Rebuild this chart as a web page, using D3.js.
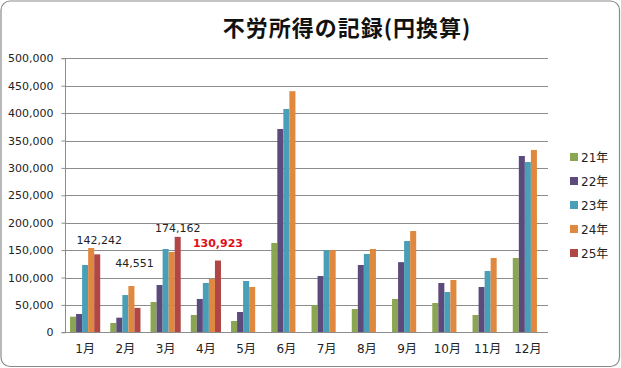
<!DOCTYPE html>
<html><head><meta charset="utf-8">
<script src="https://cdn.jsdelivr.net/npm/d3@7"></script>
<style>body{margin:0;background:#fff}svg{display:block}</style>
</head><body>
<svg id="c" width="621" height="368"></svg>
<script>
const months = ["1月","2月","3月","4月","5月","6月","7月","8月","9月","10月","11月","12月"];
const seriesNames = ["21年","22年","23年","24年","25年"];
const s21 = [28500,17000,55300,31600,20600,163000,49800,42500,60800,53500,31600,135600];
const s22 = [33400,26700,86300,60800,37000,371000,102700,122800,128000,90000,82700,321700];
const s23 = [122800,68000,152000,90000,93600,407500,150000,142900,166600,73500,111900,310800];
const s24 = [153800,84500,146500,97300,82700,440000,150000,152000,184800,95400,135600,332700];
const s25 = [142242,44551,174162,130923,null,null,null,null,null,null,null,null];
const colors = ["#8AA652","#5D4A7C","#4A9FB8","#E0883E","#B04745"];
const yTicks = [0,50000,100000,150000,200000,250000,300000,350000,400000,450000,500000];
const labelled = [
  {m:"1月", v:142242, dx:2, y:244, red:false},
  {m:"2月", v:44551, dx:-3, y:267, red:false},
  {m:"3月", v:174162, dx:0, y:232, red:false},
  {m:"4月", v:130923, dx:0, y:247, red:true}
];

const series = [s21,s22,s23,s24,s25];
const svg = d3.select("#c");
const font = "'DejaVu Sans','Noto Sans CJK JP',sans-serif";

svg.append("rect").attr("x",1).attr("y",1).attr("width",618.5).attr("height",365.5)
  .attr("rx",9).attr("fill","#fff").attr("stroke","#8a8a8a").attr("stroke-width",1.2);

const L=65, R=548, T=58.3, B=332.3;
const x0 = d3.scaleBand().domain(months).range([L,R]).paddingInner(0.25).paddingOuter(0.125);
const x1 = d3.scaleBand().domain(seriesNames).range([0,x0.bandwidth()]);
const y = d3.scaleLinear().domain([0,500000]).range([B,T]);

// grid
svg.append("g").selectAll("line").data(yTicks.slice(1)).join("line")
  .attr("x1",L).attr("x2",R).attr("y1",d=>Math.round(y(d))+0.5).attr("y2",d=>Math.round(y(d))+0.5)
  .attr("stroke","#8c8c8c").attr("stroke-width",1);

// y axis
const ya = svg.append("g").attr("transform",`translate(${L+0.5},0)`)
  .call(d3.axisLeft(y).tickValues(yTicks).tickSize(4).tickPadding(8).tickFormat(d3.format(",")));
ya.selectAll("text").attr("font-family",font).attr("font-size",11).attr("fill","#222");
ya.selectAll("line").attr("stroke","#8c8c8c");
ya.select(".domain").attr("stroke","#8c8c8c").attr("d",`M-4,${Math.round(T)+0.5}H0V${Math.round(B)+0.5}H-4`);

// bars
const g = svg.append("g");
series.forEach((s,i)=>{
  g.append("g").selectAll("rect").data(months.map((m,j)=>({m,v:s[j]})).filter(d=>d.v!=null)).join("rect")
    .attr("x",d=>x0(d.m)+x1(seriesNames[i]))
    .attr("width",x1.bandwidth())
    .attr("y",d=>y(d.v)).attr("height",d=>B-y(d.v))
    .attr("fill",colors[i]);
});

// x axis
const xa = svg.append("g").attr("transform",`translate(0,${Math.round(B)+0.5})`)
  .call(d3.axisBottom(x0).tickSize(0).tickPadding(12));
xa.select(".domain").attr("stroke","#8c8c8c").attr("d",`M${L},0H${R}`);
xa.selectAll("text").attr("font-family",font).attr("font-size",12).attr("fill","#222");

// data labels
svg.append("g").selectAll("text").data(labelled).join("text")
  .attr("x",d=>x0(d.m)+x1("25年")+x1.bandwidth()/2+d.dx)
  .attr("y",d=>d.y)
  .attr("text-anchor","middle")
  .attr("font-family",font)
  .attr("font-size",d=>d.red?11:11)
  .attr("font-weight",d=>d.red?"bold":"normal")
  .attr("fill",d=>d.red?"#E0101A":"#222")
  .text(d=>d3.format(",")(d.v));

// legend
const lg = svg.append("g").selectAll("g").data(seriesNames).join("g")
  .attr("transform",(d,i)=>`translate(570,${157+i*24})`);
lg.append("rect").attr("x",0).attr("y",-4).attr("width",8).attr("height",8).attr("fill",(d,i)=>colors[i]);
lg.append("text").attr("x",11).attr("y",4.5).attr("font-family",font).attr("font-size",12).attr("fill","#222").text(d=>d);

// title
svg.append("text").attr("x",347).attr("y",36).attr("text-anchor","middle")
  .attr("font-family","'Noto Sans CJK JP',sans-serif").attr("font-weight","bold").attr("font-size",22)
  .attr("letter-spacing",1)
  .attr("fill","#111").text("不労所得の記録(円換算)");
</script>
</body></html>
